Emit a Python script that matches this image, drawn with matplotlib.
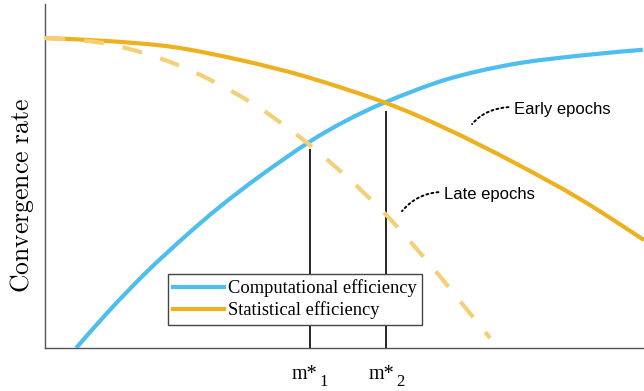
import matplotlib
matplotlib.use("Agg")
import matplotlib.pyplot as plt
from matplotlib.path import Path
from matplotlib.patches import PathPatch
from matplotlib.lines import Line2D
import matplotlib.transforms as mtransforms

plt.rcParams['mathtext.fontset'] = 'cm'

# Computational efficiency (blue)
comp_x = [0.052, 0.1085, 0.170, 0.2337, 0.2922, 0.359, 0.439, 0.5008, 0.569, 0.671, 0.781, 0.893, 0.998]
comp_y = [0.000, 0.111, 0.2215, 0.324, 0.411, 0.500, 0.5965, 0.659, 0.715, 0.781, 0.825, 0.850, 0.867]

# Statistical efficiency, early epochs (solid orange)
stat_x = [0.000, 0.1035, 0.2137, 0.3255, 0.4374, 0.5693, 0.6711, 0.7813, 0.8932, 1.000]
stat_y = [0.901, 0.8924, 0.875, 0.8372, 0.7878, 0.7122, 0.6366, 0.5407, 0.4331, 0.314]

# Statistical efficiency, late epochs (dashed orange)
late_x = [0.000, 0.087, 0.154, 0.220, 0.280, 0.339, 0.387, 0.442, 0.506, 0.564, 0.609, 0.659, 0.701, 0.743]
late_y = [0.901, 0.889, 0.863, 0.824, 0.776, 0.719, 0.663, 0.590, 0.494, 0.397, 0.311, 0.209, 0.119, 0.029]

# optimal points
m_pos = [0.442, 0.569]
m_height = [0.578, 0.689]
m_main = ['m*', 'm*']
m_sub = ['1', '2']

legend_labels = ['Computational efficiency', 'Statistical efficiency']

blue = '#4DBEEE'
orange = '#EDB120'
light_orange = '#F5CF78'


def smooth_path(xs, ys):
    """Smooth (Catmull-Rom style) Bezier path passing through the given points."""
    pts = list(zip(xs, ys))
    n = len(pts)
    verts = [pts[0]]
    codes = [Path.MOVETO]
    for i in range(n - 1):
        p0 = pts[i - 1] if i > 0 else pts[i]
        p1 = pts[i]
        p2 = pts[i + 1]
        p3 = pts[i + 2] if i + 2 < n else pts[i + 1]
        c1 = (p1[0] + (p2[0] - p0[0]) / 6, p1[1] + (p2[1] - p0[1]) / 6)
        c2 = (p2[0] - (p3[0] - p1[0]) / 6, p2[1] - (p3[1] - p1[1]) / 6)
        verts += [c1, c2, p2]
        codes += [Path.CURVE4] * 3
    return Path(verts, codes)


fig = plt.figure(figsize=(6.44, 3.91), dpi=100)
ax = fig.add_axes([45/644, 43/391, 599/644, 344/391])

ax.add_patch(PathPatch(smooth_path(comp_x, comp_y), fill=False, edgecolor=blue, lw=3,
                       capstyle='butt', zorder=3))
ax.add_patch(PathPatch(smooth_path(stat_x, stat_y), fill=False, edgecolor=orange, lw=3,
                       capstyle='butt', zorder=3))
ax.add_patch(PathPatch(smooth_path(late_x, late_y), fill=False, edgecolor=light_orange, lw=3,
                       linestyle=(0, (4.8, 4.6)), capstyle='butt', zorder=4))
ax.vlines(m_pos, 0, m_height, color='black', lw=1.2, zorder=1)

ax.set_xlim(0, 1)
ax.set_ylim(0, 1)
ax.set_xticks([])
ax.set_yticks([])
for s in ['top', 'right']:
    ax.spines[s].set_visible(False)
for s in ['left', 'bottom']:
    ax.spines[s].set_color('#555555')
    ax.spines[s].set_linewidth(1.0)

# tick labels m*_1, m*_2
trans = mtransforms.blended_transform_factory(ax.transData, ax.transAxes)
for xp, main, sub in zip(m_pos, m_main, m_sub):
    ax.text(xp, -0.0901, main, transform=trans + mtransforms.ScaledTranslation(8/100, 0, fig.dpi_scale_trans),
            ha='right', va='baseline', family='Liberation Serif', fontsize=14.5, clip_on=False)
    ax.text(xp, -0.1105, sub, transform=trans + mtransforms.ScaledTranslation(10/100, 0, fig.dpi_scale_trans),
            ha='left', va='baseline', family='Liberation Serif', fontsize=12, clip_on=False)

ax.set_ylabel(r'$\mathrm{Convergence\ rate}$', fontsize=18.5)
ax.yaxis.set_label_coords(-0.015, 0.443)

handles = [Line2D([], [], color=blue, lw=3), Line2D([], [], color=orange, lw=3)]
leg = ax.legend(handles, legend_labels, loc='upper left', bbox_to_anchor=(0.205, 0.215),
                borderaxespad=0, fancybox=False, framealpha=1, edgecolor='#444444',
                prop={'family': 'Liberation Serif', 'size': 13.3},
                handlelength=2.75, handletextpad=0.25, borderpad=0.28, labelspacing=0.24)
leg.get_frame().set_linewidth(1.0)
leg.set_zorder(5)

ax.annotate('Early epochs', xy=(0.713, 0.651), xytext=(0.783, 0.692),
            ha='left', va='center', family='Liberation Sans', fontsize=12,
            arrowprops=dict(arrowstyle='-', linestyle=':', lw=1.4, color='black',
                            relpos=(0, 0.7), shrinkB=0,
                            connectionstyle='angle3,angleA=0,angleB=50'))
ax.annotate('Late epochs', xy=(0.596, 0.398), xytext=(0.666, 0.445),
            ha='left', va='center', family='Liberation Sans', fontsize=12,
            arrowprops=dict(arrowstyle='-', linestyle=':', lw=1.4, color='black',
                            relpos=(0, 0.7), shrinkB=0,
                            connectionstyle='angle3,angleA=0,angleB=50'))

fig.savefig('out.png', dpi=100)
